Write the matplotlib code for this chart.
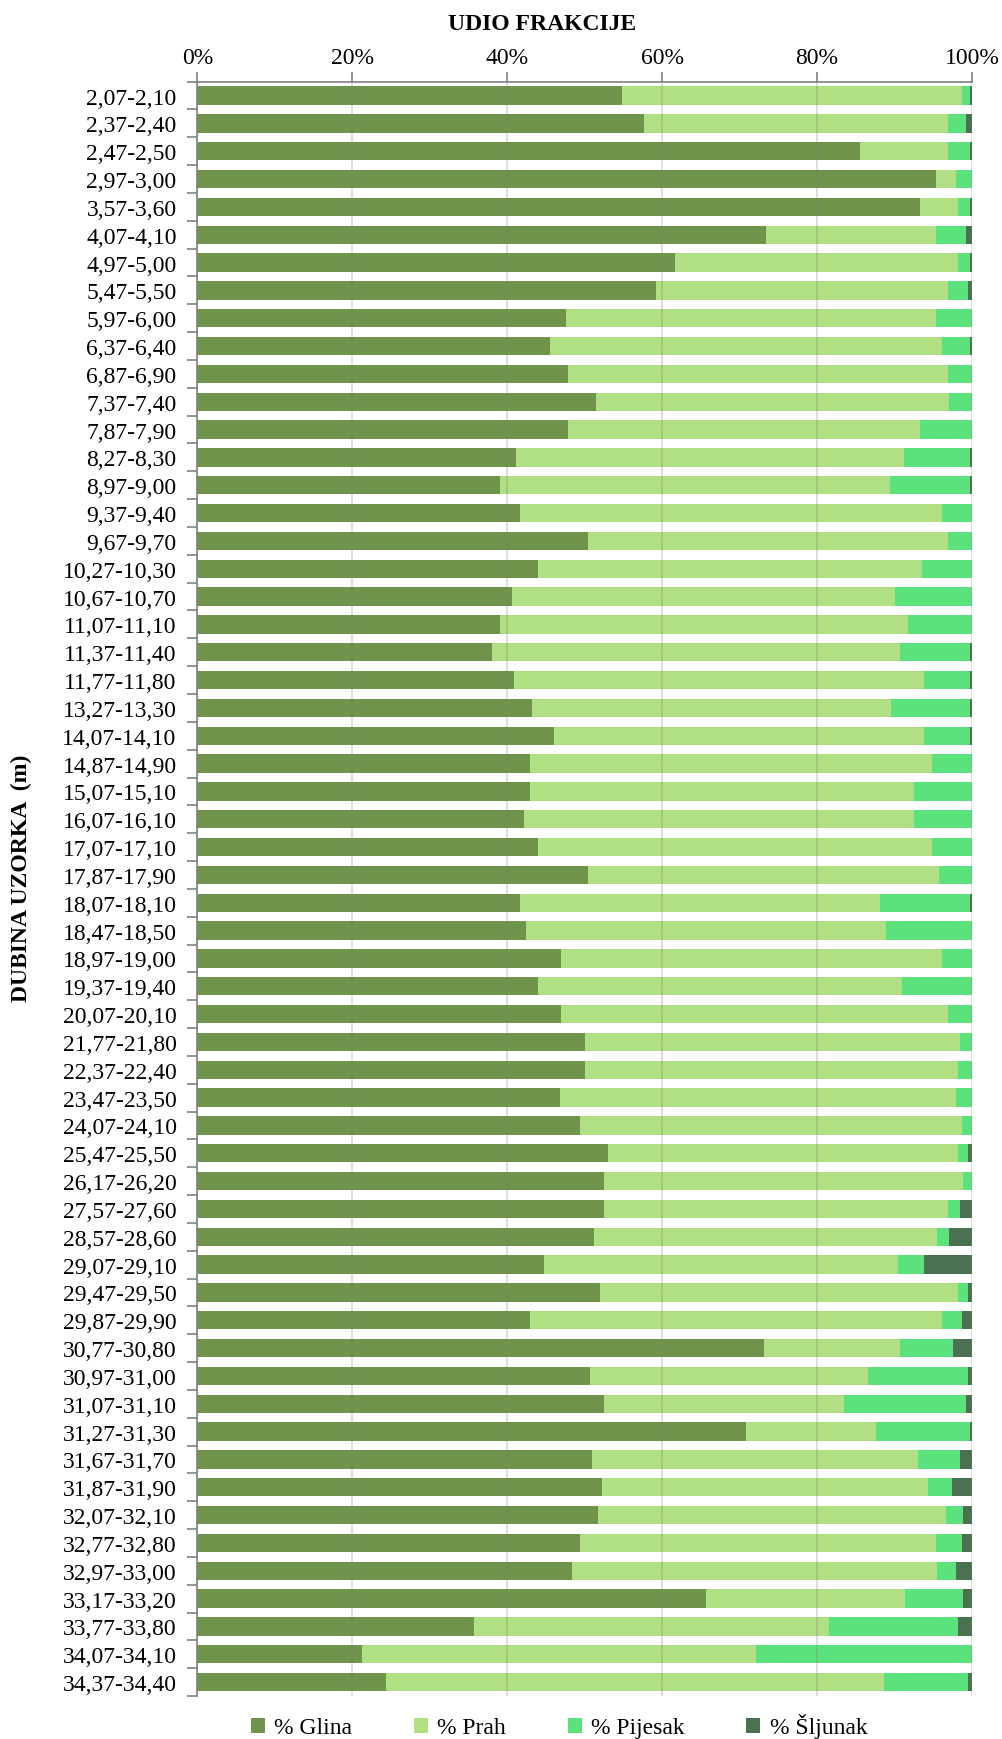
import matplotlib.pyplot as plt
from matplotlib.patches import Patch
from matplotlib.ticker import FixedLocator, PercentFormatter
import numpy as np

plt.rcParams['font.family'] = ['Liberation Serif', 'DejaVu Serif']

# dubina uzorka (m)
labels = ['2,07-2,10', '2,37-2,40', '2,47-2,50', '2,97-3,00', '3,57-3,60', '4,07-4,10',
          '4,97-5,00', '5,47-5,50', '5,97-6,00', '6,37-6,40', '6,87-6,90', '7,37-7,40',
          '7,87-7,90', '8,27-8,30', '8,97-9,00', '9,37-9,40', '9,67-9,70', '10,27-10,30',
          '10,67-10,70', '11,07-11,10', '11,37-11,40', '11,77-11,80', '13,27-13,30',
          '14,07-14,10', '14,87-14,90', '15,07-15,10', '16,07-16,10', '17,07-17,10',
          '17,87-17,90', '18,07-18,10', '18,47-18,50', '18,97-19,00', '19,37-19,40',
          '20,07-20,10', '21,77-21,80', '22,37-22,40', '23,47-23,50', '24,07-24,10',
          '25,47-25,50', '26,17-26,20', '27,57-27,60', '28,57-28,60', '29,07-29,10',
          '29,47-29,50', '29,87-29,90', '30,77-30,80', '30,97-31,00', '31,07-31,10',
          '31,27-31,30', '31,67-31,70', '31,87-31,90', '32,07-32,10', '32,77-32,80',
          '32,97-33,00', '33,17-33,20', '33,77-33,80', '34,07-34,10', '34,37-34,40']

glina = [54.8, 57.6, 85.5, 95.3, 93.3, 73.4, 61.7, 59.2, 47.6, 45.5, 47.8, 51.4,
         47.8, 41.1, 39.1, 41.6, 50.4, 44.0, 40.6, 39.1, 38.1, 40.9, 43.2, 46.0,
         42.9, 42.9, 42.2, 44.0, 50.4, 41.6, 42.4, 47.0, 44.0, 47.0, 50.1, 50.1,
         46.8, 49.4, 53.0, 52.5, 52.5, 51.2, 44.7, 52.0, 42.9, 73.1, 50.7, 52.5,
         70.8, 50.9, 52.2, 51.7, 49.4, 48.4, 65.7, 35.7, 21.3, 24.4]
prah = [43.9, 39.3, 11.4, 2.6, 4.9, 21.9, 36.5, 37.7, 47.7, 50.6, 49.1, 45.7,
        45.5, 50.1, 50.3, 54.5, 46.5, 49.5, 49.5, 52.6, 52.6, 52.9, 46.4, 47.8,
        51.9, 49.6, 50.3, 50.8, 45.4, 46.5, 46.5, 49.1, 47.0, 49.9, 48.3, 48.1,
        51.1, 49.3, 45.2, 46.4, 44.4, 44.3, 45.7, 46.2, 53.2, 17.6, 35.9, 31.0,
        16.8, 42.1, 42.1, 44.9, 45.9, 47.1, 25.7, 45.9, 50.8, 64.2]
pijesak = [1.1, 2.3, 2.8, 2.1, 1.5, 3.9, 1.6, 2.6, 4.7, 3.6, 3.1, 2.9,
           6.7, 8.6, 10.4, 3.9, 3.1, 6.5, 9.9, 8.3, 9.0, 6.0, 10.2, 6.0,
           5.2, 7.5, 7.5, 5.2, 4.2, 11.7, 11.1, 3.9, 9.0, 3.1, 1.6, 1.8,
           2.1, 1.3, 1.3, 1.1, 1.5, 1.6, 3.4, 1.3, 2.6, 6.9, 12.9, 15.7,
           12.2, 5.4, 3.1, 2.3, 3.4, 2.4, 7.5, 16.6, 27.9, 10.9]
sljunak = [0.2, 0.8, 0.3, 0.0, 0.3, 0.8, 0.2, 0.5, 0.0, 0.3, 0.0, 0.0,
           0.0, 0.2, 0.2, 0.0, 0.0, 0.0, 0.0, 0.0, 0.3, 0.2, 0.2, 0.2,
           0.0, 0.0, 0.0, 0.0, 0.0, 0.2, 0.0, 0.0, 0.0, 0.0, 0.0, 0.0,
           0.0, 0.0, 0.5, 0.0, 1.6, 2.9, 6.2, 0.5, 1.3, 2.4, 0.5, 0.8,
           0.2, 1.6, 2.6, 1.1, 1.3, 2.1, 1.1, 1.8, 0.0, 0.5]

series = [('% Glina', glina, '#70944c'),
          ('% Prah', prah, '#b1df84'),
          ('% Pijesak', pijesak, '#5be27c'),
          ('% Šljunak', sljunak, '#4a7150')]

fig = plt.figure(figsize=(10.02, 17.40), dpi=100)
ax = fig.add_axes([0.197, 0.0247, 0.773, 0.9278])

y = np.arange(len(labels))
left = np.zeros(len(labels))
for name, vals, col in series:
    vals = np.array(vals)
    ax.barh(y, vals, left=left, height=0.66, color=col, label=name, zorder=2)
    left += vals

ax.set_xlim(0, 100)
ax.set_ylim(len(labels) - 0.5, -0.5)

# x os gore
ax.xaxis.tick_top()
ax.xaxis.set_major_locator(FixedLocator([0, 20, 40, 60, 80, 100]))
ax.xaxis.set_major_formatter(PercentFormatter(decimals=0))
ax.tick_params(axis='x', direction='out', length=7, width=1.2, color='#808080',
               labelsize=17, pad=3)
ax.grid(axis='x', color='#7f7f7f', alpha=0.3, linewidth=1.2, zorder=3)
ax.set_axisbelow(False)

# y os
ax.set_yticks(y)
ax.set_yticklabels(labels, fontsize=17)
ax.set_yticks(np.arange(len(labels) + 1) - 0.5, minor=True)
ax.tick_params(axis='y', which='major', length=0, pad=15)
ax.tick_params(axis='y', which='minor', direction='out', length=7, width=1.2, color='#808080')

for s in ['right', 'bottom']:
    ax.spines[s].set_visible(False)
for s in ['left', 'top']:
    ax.spines[s].set_color('#808080')
    ax.spines[s].set_linewidth(1.2)

fig.text(0.541, 0.986, 'UDIO FRAKCIJE', ha='center', va='center',
         fontsize=17, fontweight='bold')
fig.text(0.021, 1 - 878 / 1740, 'DUBINA UZORKA  (m)', rotation=90, ha='center',
         va='center', fontsize=17, fontweight='bold')

handles = [Patch(facecolor=c, edgecolor='none', label=n) for n, v, c in series]
fig.legend(handles=handles, loc='center', bbox_to_anchor=(0.558, 0.0075), ncol=4,
           frameon=False, fontsize=17, handlelength=0.6, handleheight=0.6,
           handletextpad=0.4, columnspacing=2.6, borderpad=0)

fig.savefig('out.png', dpi=100)
